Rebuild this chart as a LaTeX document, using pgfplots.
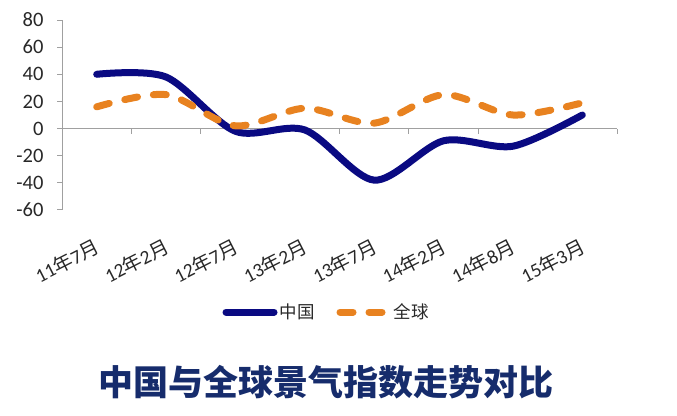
\documentclass[border=0pt]{standalone}
\usepackage{pgfplots}
\pgfplotsset{compat=1.18}
\usepackage{fontspec}
\setmainfont{Carlito}
\newfontfamily\cjk{Noto Sans CJK SC}
\newfontfamily\cjkblack{Noto Sans CJK SC Black}

\definecolor{cnblue}{RGB}{10,10,130}
\definecolor{glorange}{RGB}{232,130,32}
\definecolor{axisgray}{RGB}{160,160,160}
\definecolor{titleblue}{RGB}{22,44,108}
\definecolor{labelgray}{RGB}{40,40,40}

\newcommand{\ym}[2]{#1{\cjk 年}#2{\cjk 月}}

\begin{document}
\begin{tikzpicture}[lab/.style={rotate=27, anchor=east, xshift=-15pt, yshift=-32pt, text=labelgray,
        font=\fontsize{19.5}{22}\selectfont, inner sep=0pt}]
\path[use as bounding box] (0pt,0pt) rectangle (677pt,415pt);
\begin{axis}[
    at={(62pt,205pt)}, anchor=south west,
    width=555pt, height=190pt, scale only axis,
    xmin=0, xmax=8, ymin=-60, ymax=80,
    axis x line*=middle, axis y line*=left,
    xtick={1,2,...,8}, xticklabels={},
    ytick={-60,-40,...,80},
    tick align=outside, major tick length=5pt,
    axis line style={draw=axisgray, line width=1pt},
    tick style={draw=axisgray, line width=1pt},
    /pgf/number format/assume math mode=true,
    yticklabel style={font=\fontsize{20.5}{24}\selectfont, text=labelgray, xshift=-10pt},
    clip=false,
    legend columns=2,
    legend style={at={(axis description cs:0.4766,-0.537)}, anchor=center,
        draw=none, fill=none, font=\cjk\fontsize{17.5}{20}\selectfont, text=labelgray,
        /tikz/every even column/.append style={column sep=20pt}},
    legend image code/.code={\draw[#1] (0pt,0pt) -- (48pt,0pt);},
]
\addplot[cnblue, line width=7pt, line cap=round, smooth] coordinates {
(0.5,40) (1.5,38) (2.5,-2) (3.5,-1) (4.5,-38) (5.5,-9) (6.5,-13) (7.5,10)
};
\addlegendentry{中国}
\addplot[glorange, line width=7pt, line cap=round, dash pattern=on 13pt off 16pt, smooth] coordinates {
(0.5,16) (1.5,25) (2.5,2) (3.5,15) (4.5,4) (5.5,25) (6.5,10) (7.5,19)
};
\addlegendentry{全球}
\node[lab] at (axis cs:0.5,-60) {\ym{11}{7}};
\node[lab] at (axis cs:1.5,-60) {\ym{12}{2}};
\node[lab] at (axis cs:2.5,-60) {\ym{12}{7}};
\node[lab] at (axis cs:3.5,-60) {\ym{13}{2}};
\node[lab] at (axis cs:4.5,-60) {\ym{13}{7}};
\node[lab] at (axis cs:5.5,-60) {\ym{14}{2}};
\node[lab] at (axis cs:6.5,-60) {\ym{14}{8}};
\node[lab] at (axis cs:7.5,-60) {\ym{15}{3}};
\end{axis}
\node[text=titleblue, font=\cjkblack\fontsize{35}{40}\selectfont] at (326pt,33pt) {中国与全球景气指数走势对比};
\end{tikzpicture}
\end{document}
